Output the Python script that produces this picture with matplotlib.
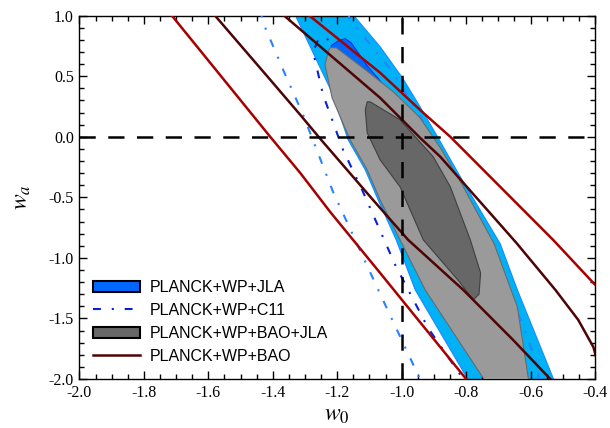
#! /usr/bin/env python
import matplotlib
matplotlib.use('Agg')
import matplotlib.pyplot as plt, numpy as np
from matplotlib.patches import Patch
from matplotlib.lines import Line2D

"""
w0-wa constraints: PLANCK+WP combined with JLA, C11, BAO and BAO+JLA
"""

# --- filled contours, outlines (w0, wa) ---
# PLANCK+WP+JLA, 2 sigma (light blue band)
jla2_w0 = [-1.346, -1.331, -1.216, -1.166, -1.113, -1.073, -1.017, -0.958, -0.797, -0.778,
           -0.514, -0.530, -0.641, -0.694, -0.818, -0.887, -0.943, -0.998, -1.067, -1.151, -1.176]
jla2_wa = [1.091, 1.008, 0.364, -0.025, -0.273, -0.521, -0.851, -1.264, -1.992, -2.091,
           -2.091, -1.992, -1.264, -0.884, -0.331, -0.008, 0.248, 0.488, 0.744, 1.008, 1.091]
# PLANCK+WP+JLA, 1 sigma (mostly under the BAO+JLA contours)
jla1_w0 = [-1.219, -1.197, -1.175, -1.157, -1.135, -1.107, -1.067, -1.036, -1.005, -0.911,
           -0.818, -0.772, -0.787, -0.880, -1.005, -1.129, -1.207]
jla1_wa = [0.752, 0.793, 0.810, 0.777, 0.694, 0.587, 0.463, 0.339, 0.223, -0.190,
           -0.769, -1.264, -1.347, -1.017, -0.355, 0.223, 0.636]

# PLANCK+WP+BAO+JLA, 2 sigma
bj2_w0 = [-1.228, -1.238, -1.216, -1.160, -1.107, -1.067, -1.005, -0.927, -0.747, -0.725,
          -0.598, -0.607, -0.641, -0.713, -0.812, -0.880, -0.943, -1.026, -1.113, -1.203, -1.222]
bj2_wa = [0.702, 0.595, 0.322, -0.025, -0.273, -0.521, -0.851, -1.264, -1.992, -2.107,
          -2.107, -1.992, -1.405, -0.884, -0.397, -0.091, 0.157, 0.372, 0.554, 0.736, 0.736]
# PLANCK+WP+BAO+JLA, 1 sigma
bj1_w0 = [-1.107, -1.113, -1.107, -1.067, -1.005, -0.933, -0.820, -0.778,
          -0.760, -0.755, -0.787, -0.849, -0.902, -1.005, -1.098]
bj1_wa = [0.289, 0.223, 0.033, -0.190, -0.413, -0.851, -1.200, -1.347,
          -1.300, -1.124, -0.851, -0.413, -0.165, 0.140, 0.289]

# --- PLANCK+WP+C11 contour edges ---
c11_2s_left_w0 = [-1.439, -1.430, -1.368, -1.306, -1.213, -1.061, -0.949, -0.936]
c11_2s_left_wa = [1.050, 0.942, 0.554, 0.182, -0.455, -1.331, -1.967, -2.091]
c11_2s_right_w0 = [-1.169, -1.160, -1.092, -1.026, -0.942, -0.626, -0.585, -0.573]
c11_2s_right_wa = [1.033, 0.967, 0.744, 0.529, 0.165, -1.537, -1.843, -2.008]
c11_1s_w0 = [-1.191, -1.213, -1.238, -1.259, -1.275, -1.244, -1.182, -1.120, -1.020, -0.918, -0.809, -0.787]
c11_1s_wa = [0.678, 0.760, 0.826, 0.802, 0.702, 0.347, -0.107, -0.455, -1.058, -1.579, -2.0, -2.107]

# --- PLANCK+WP+BAO contour edges ---
bao2_left_w0 = [-1.731, -1.713, -1.408, -1.315, -1.222, -1.067, -0.800, -0.775]
bao2_left_wa = [1.066, 1.0, 0.0, -0.298, -0.620, -1.124, -2.0, -2.091]
bao2_right_w0 = [-1.315, -1.290, -1.067, -0.933, -0.849, -0.530, -0.405, -0.384]
bao2_right_wa = [1.066, 1.008, 0.529, 0.198, 0.0, -0.851, -1.207, -1.264]
bao1_left_w0 = [-1.601, -1.579, -1.408, -1.315, -1.250, -1.089, -0.980, -0.809, -0.654, -0.539, -0.501]
bao1_left_wa = [1.066, 1.0, 0.471, 0.182, -0.025, -0.521, -0.851, -1.264, -1.678, -2.0, -2.091]
bao1_right_w0 = [-1.393, -1.368, -1.067, -0.943, -0.880, -0.644, -0.523, -0.452, -0.405, -0.390]
bao1_right_wa = [1.066, 1.008, 0.322, -0.008, -0.165, -0.876, -1.264, -1.512, -1.736, -1.884]

labels = ['PLANCK+WP+JLA', 'PLANCK+WP+C11', 'PLANCK+WP+BAO+JLA', 'PLANCK+WP+BAO']

c_lblue, c_dblue = '#00B2F5', '#0068FF'
c_lgray, c_dgray = '#9A9A9A', '#676767'
c11_light, c11_dark = '#2A80FF', '#0A1FD8'
c_red, c_brown = '#A60000', '#4E0404'
dashdot = (0, (3.8, 5.2, 1.0, 5.2))


def PlotContours(ax):
    ax.fill(jla2_w0, jla2_wa, fc=c_lblue, ec='#1E88FF', lw=0.8, zorder=1)
    ax.fill(jla1_w0, jla1_wa, fc=c_dblue, ec='#0035E0', lw=0.8, zorder=2)

    ax.plot(c11_2s_left_w0, c11_2s_left_wa, c=c11_light, ls=dashdot, lw=1.5, zorder=3)
    ax.plot(c11_2s_right_w0, c11_2s_right_wa, c=c11_light, ls=dashdot, lw=1.5, zorder=3)
    ax.plot(c11_1s_w0, c11_1s_wa, c=c11_dark, ls=dashdot, lw=1.5, zorder=3)

    ax.fill(bj2_w0, bj2_wa, fc=c_lgray, ec='#6A6A6A', lw=0.8, zorder=4)
    ax.fill(bj1_w0, bj1_wa, fc=c_dgray, ec='#404040', lw=0.8, zorder=5)

    ax.plot(bao2_left_w0, bao2_left_wa, c=c_red, lw=1.8, zorder=6)
    ax.plot(bao2_right_w0, bao2_right_wa, c=c_red, lw=1.8, zorder=6)
    ax.plot(bao1_left_w0, bao1_left_wa, c=c_brown, lw=1.8, zorder=6)
    ax.plot(bao1_right_w0, bao1_right_wa, c=c_brown, lw=1.8, zorder=6)


def SetAxes(ax):
    ax.axhline(0.0, c='k', ls=(0, (6.5, 5.0)), lw=1.8, zorder=7)
    ax.axvline(-1.0, c='k', ls=(0, (6.5, 5.0)), lw=1.8, zorder=7)

    ax.set_xlim(-2.0, -0.4)
    ax.set_ylim(-2.0, 1.0)
    ax.set_xticks(np.arange(-2.0, -0.39, 0.2))
    ax.set_xticks(np.arange(-2.0, -0.39, 0.05), minor=True)
    ax.set_yticks(np.arange(-2.0, 1.01, 0.5))
    ax.set_yticks(np.arange(-2.0, 1.01, 0.1), minor=True)
    ax.xaxis.set_major_formatter(plt.FormatStrFormatter('%.1f'))
    ax.yaxis.set_major_formatter(plt.FormatStrFormatter('%.1f'))
    ax.tick_params(which='both', direction='in', top=True, right=True, width=1.0,
                   labelsize=11.5, pad=4)
    ax.tick_params(which='major', length=6)
    ax.tick_params(which='minor', length=3.5)
    for lab in ax.get_xticklabels() + ax.get_yticklabels():
        lab.set_family('Liberation Serif')
    for s in ax.spines.values():
        s.set_linewidth(1.0)

    ax.set_xlabel(r'$w_0$', fontsize=17, labelpad=1)
    ax.set_ylabel(r'$w_a$', fontsize=17, labelpad=11)

    handles = [Patch(fc=c_dblue, ec='k', lw=1.5),
               Line2D([], [], c=c11_dark, ls=dashdot, lw=1.5),
               Patch(fc=c_dgray, ec='k', lw=1.5),
               Line2D([], [], c=c_brown, lw=1.8)]
    ax.legend(handles, labels, loc='lower left', bbox_to_anchor=(0.026, 0.042),
              frameon=False, prop={'family': 'Liberation Sans', 'size': 11.5},
              handlelength=2.95, handletextpad=0.6, labelspacing=0.5,
              borderpad=0, borderaxespad=0)


if __name__ == '__main__':
    plt.rcParams['mathtext.fontset'] = 'stix'
    fig = plt.figure(figsize=(6.1, 4.28), dpi=100, facecolor='w')
    ax = fig.add_axes([0.1303, 0.1145, 0.8451, 0.8488])
    PlotContours(ax)
    SetAxes(ax)
    fig.savefig('out.png', dpi=100)
